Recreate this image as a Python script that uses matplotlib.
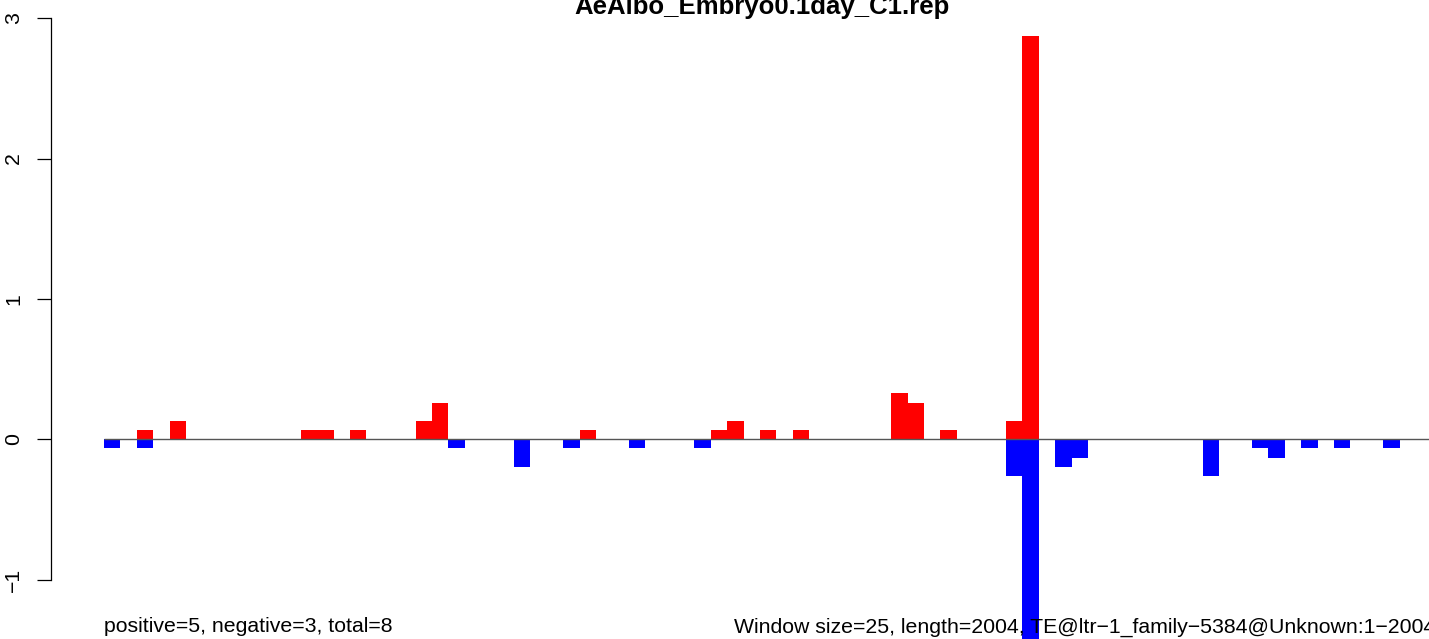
import matplotlib
matplotlib.use("Agg")
import matplotlib.pyplot as plt

# ── Data ─────────────────────────────────────────────────────────────────────
TITLE = "AeAlbo_Embryo0.1day_C1.rep"
N_WINDOWS = 81   # length 2004 / window 25

pos_window = [2, 4, 12, 13, 15, 19, 20, 29, 37, 38, 40, 42, 48, 49, 51, 55, 56]
pos_value  = [0.065, 0.13, 0.065, 0.065, 0.065, 0.13, 0.26, 0.065, 0.065, 0.13,
              0.065, 0.065, 0.33, 0.26, 0.065, 0.13, 2.87]

neg_window = [0, 2, 21, 25, 28, 32, 36, 55, 56, 58, 59, 67, 70, 71, 73, 75, 78]
neg_value  = [-0.065, -0.065, -0.065, -0.195, -0.065, -0.065, -0.065, -0.26, -1.6,
              -0.195, -0.13, -0.26, -0.065, -0.13, -0.065, -0.065, -0.065]

y_ticks = [-1, 0, 1, 2, 3]

left_note = "positive=5, negative=3, total=8"
right_note = "Window size=25, length=2004, TE@ltr\u22121_family\u22125384@Unknown:1\u22122004"

# ── Layout (pixels of a 1429x639 image) ──────────────────────────────────────
W, H = 1429, 639
X0_PX, BAR_PX = 104.0, 16.4      # left edge of window 0, width of one window
Y0_PX, UNIT_PX = 439.3, 140.4    # y=0 row, pixels per unit
AXIS_PX = 50.7                   # y-axis line

plt.rcParams["font.family"] = ["Liberation Sans", "DejaVu Sans"]

fig = plt.figure(figsize=(W / 100, H / 100), dpi=100)
ax = fig.add_axes([AXIS_PX / W, 0, (W - AXIS_PX) / W, 1])
ax.set_xlim((AXIS_PX - X0_PX) / BAR_PX, (W - X0_PX) / BAR_PX)
ax.set_ylim((Y0_PX - H) / UNIT_PX, Y0_PX / UNIT_PX)
ax.patch.set_alpha(0)

ax.bar(neg_window, neg_value, width=1.0, align="edge", color="#0000ff", linewidth=0)
ax.bar(pos_window, pos_value, width=1.0, align="edge", color="#ff0000", linewidth=0)
ax.hlines(0, 0, N_WINDOWS, color="#555555", linewidth=1.0, zorder=3)

for side in ("top", "right", "bottom"):
    ax.spines[side].set_visible(False)
ax.spines["left"].set_bounds(-1, 3)
ax.spines["left"].set_linewidth(0.9)
ax.set_xticks([])
ax.set_yticks(y_ticks)
ax.set_yticklabels([str(t).replace("-", "\u2212") for t in y_ticks],
                   rotation=90, va="center", fontsize=15.3)
ax.tick_params(axis="y", length=9.9, width=0.9, pad=10.0)

fig.text(762 / W, 1 - 14 / H, TITLE, ha="center", va="baseline",
         fontsize=18.5, fontweight="bold")
fig.text(104 / W, 1 - 632.5 / H, left_note, ha="left", va="baseline", fontsize=15.3)
fig.text(733.6 / W, 1 - 632.5 / H, right_note, ha="left", va="baseline", fontsize=15.3)

fig.savefig("out.png", dpi=100)
